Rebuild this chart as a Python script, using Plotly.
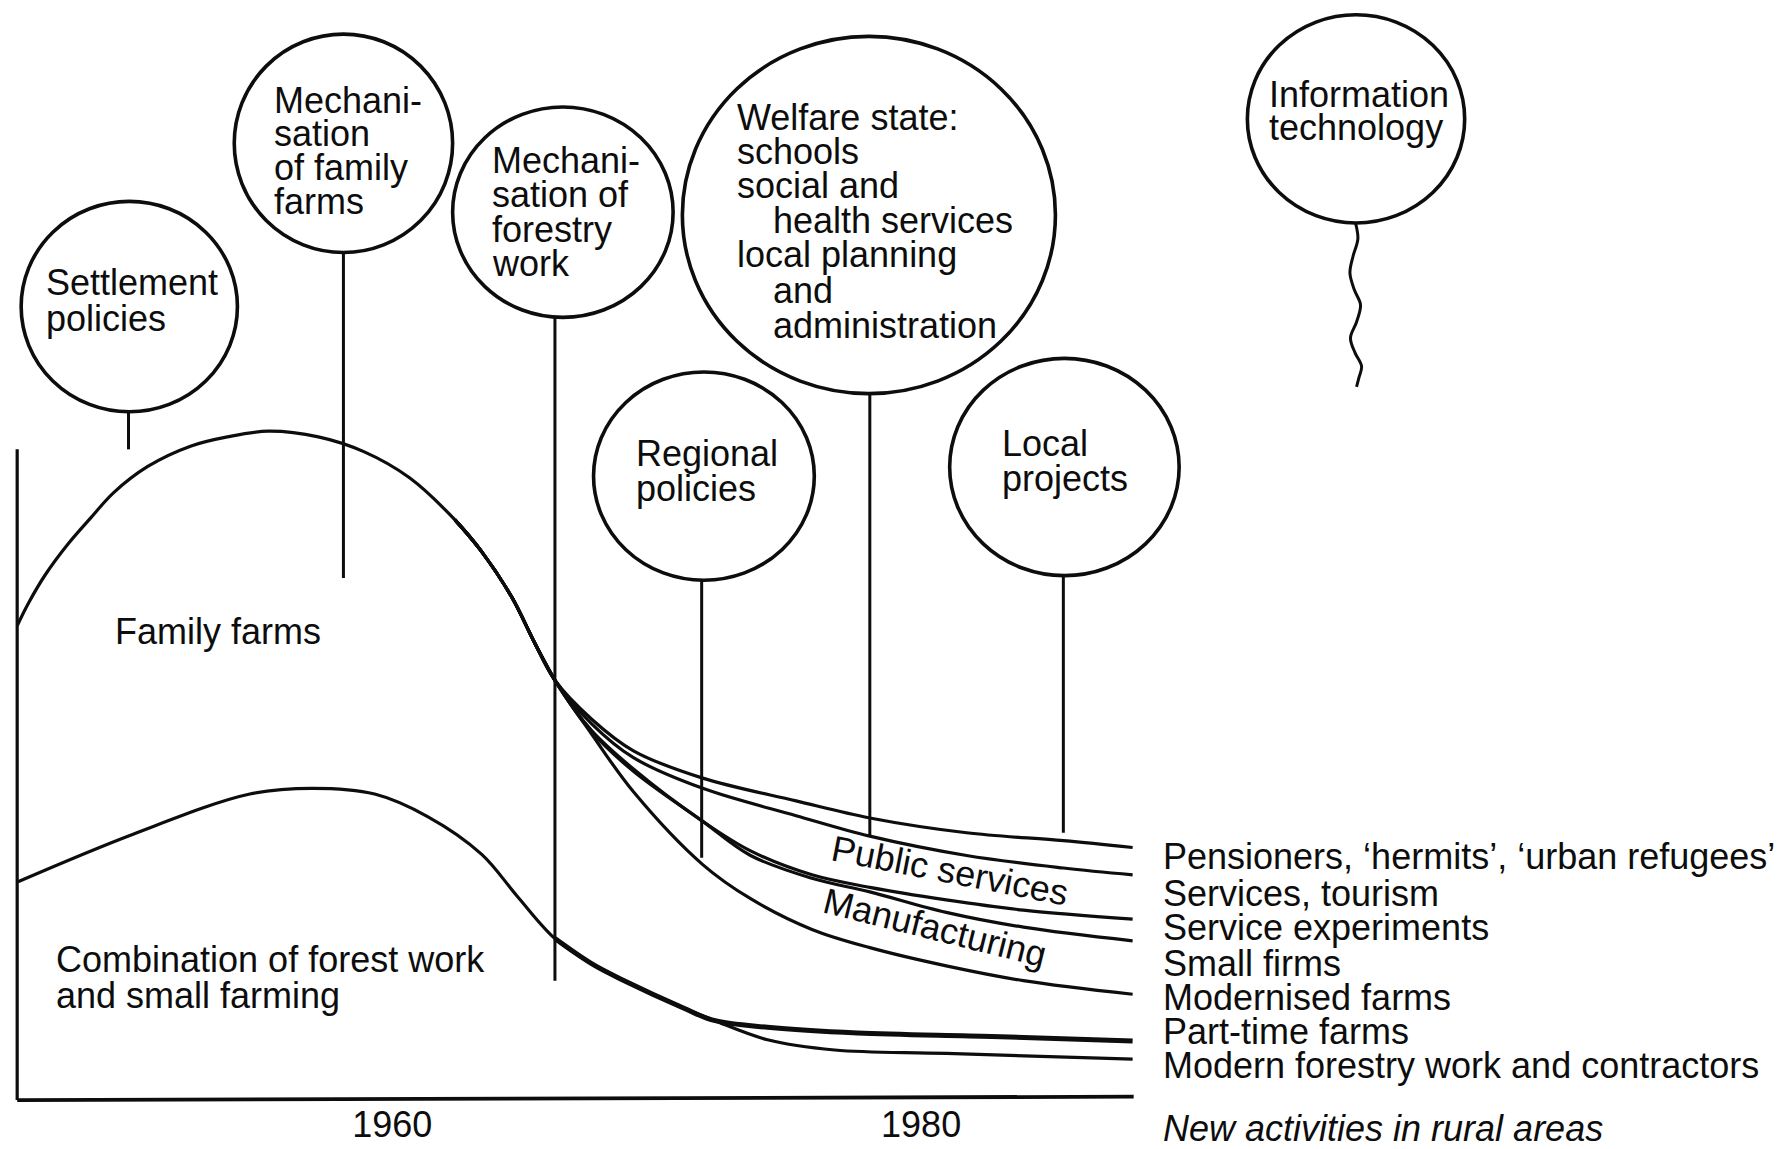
import plotly.graph_objects as go

# ---------------- data ----------------
# x in years, y in arbitrary "share of rural activity" units (baseline = 0)
family_years = [1945.81, 1946.24, 1946.88, 1947.74, 1948.60, 1949.46, 1950.75, 1952.39, 1953.76,
                1955.31, 1957.20, 1958.92, 1960.65, 1962.37, 1963.35, 1964.52, 1965.38, 1966.15]
family_farms = [417, 437, 462, 489, 512, 534, 557, 575, 583, 588, 583, 570, 547, 510, 483, 442, 402, 369]

comb_years = [1945.84, 1950.22, 1954.61, 1956.97, 1959.33, 1961.35, 1963.38, 1964.73, 1966.15,
              1967.60, 1968.77, 1971.01, 1972.17]
combination = [192, 234, 269, 274, 269, 249, 216, 179, 142, 119, 105, 81, 70]

bundle_years_a = [1967.53, 1969.12, 1971.74, 1975.27, 1978.06, 1981.72, 1985.38, 1988.0]
pensioners = [335, 307, 283, 263, 248, 235, 228, 222]
services_tourism = [331, 301, 274, 250, 232, 215, 204, 198]

bundle_years_b = [1967.53, 1969.12, 1971.74, 1973.55, 1975.87, 1978.06, 1980.95, 1983.87, 1988.0]
service_experiments = [325, 291, 245, 219, 198, 187, 176, 167, 159]
small_firms = [324, 289, 245, 215, 195, 183, 165, 152, 140]
modernised_farms = [322, 271, 207, 177, 150, 134, 118, 105, 93]

parttime_years = [1974.19, 1977.59, 1982.67, 1988.0]
part_time_farms = [64, 59, 56, 52]
forestry_years = [1974.19, 1976.73, 1980.95, 1988.0]
modern_forestry = [53, 44, 41, 36]

outcome_labels = ["Pensioners, \u2018hermits\u2019, \u2018urban refugees\u2019", "Services, tourism",
                  "Service experiments", "Small firms", "Modernised farms", "Part-time farms",
                  "Modern forestry work and contractors"]

tick_years = [1960, 1980]
tick_labels = ["1960", "1980"]

# balloons (driving forces): bounding box in data units, stem position
balloon_names = ["Settlement policies", "Mechanisation of family farms", "Mechanisation of forestry work",
                 "Welfare state", "Regional policies", "Local projects", "Information technology"]
balloon_x0 = [1945.96, 1954.02, 1962.28, 1970.97, 1967.61, 1981.08, 1992.34]
balloon_x1 = [1954.14, 1962.28, 1970.62, 1985.08, 1975.96, 1989.76, 2000.56]
balloon_y0 = [605, 745, 688, 621, 457, 461, 771]
balloon_y1 = [790, 937, 873, 935, 640, 652, 954]
stem_x = [1950.02, 1958.15, 1966.15, 1978.06, 1971.70, 1985.38]
stem_bottom = [572, 459, 105, 232, 213, 235]

# wavy string of the information technology balloon
it_string_x = [1996.43, 1996.52, 1996.34, 1996.22, 1996.39, 1996.62, 1996.47, 1996.24,
               1996.41, 1996.66, 1996.56, 1996.47]
it_string_y = [771, 757, 742, 727, 712, 699, 684, 670, 657, 645, 635, 627]

# ---------------- figure ----------------
INK = "#0d0d0d"
FONT = "Liberation Sans, Arial, Helvetica, sans-serif"
FS = 36

fig = go.Figure()

def curve(x, y, w=3.2):
    fig.add_trace(go.Scatter(x=x, y=y, mode="lines", line=dict(color=INK, width=w, shape="spline", smoothing=1.0),
                             hoverinfo="skip", showlegend=False))

def seg(x, y, w=3.0):
    fig.add_trace(go.Scatter(x=x, y=y, mode="lines", line=dict(color=INK, width=w),
                             hoverinfo="skip", showlegend=False))

# family farm curve continuing into the bundle
tail_f_x = family_years[-5:]
tail_f_y = family_farms[-5:]
curve(family_years, family_farms)
for yrs, vals in [(bundle_years_a, pensioners), (bundle_years_a, services_tourism),
                  (bundle_years_b, service_experiments), (bundle_years_b, small_firms),
                  (bundle_years_b, modernised_farms)]:
    curve(tail_f_x + yrs, tail_f_y + vals)

# combination curve continuing into part-time farms and forestry
curve(comb_years, combination)
curve(comb_years[-5:] + parttime_years, combination[-5:] + part_time_farms, w=5)
curve(comb_years[-5:] + forestry_years, combination[-5:] + modern_forestry)

# axes frame (left line + baseline)
seg([family_years[0], family_years[0]], [0, 572], w=3.2)
seg([family_years[0], 1988.04], [0, 3], w=3.8)

# balloons
for i in range(len(balloon_names)):
    fig.add_shape(type="circle", xref="x", yref="y", x0=balloon_x0[i], x1=balloon_x1[i],
                  y0=balloon_y0[i], y1=balloon_y1[i], line=dict(color=INK, width=3.6))
for i in range(len(stem_x)):
    seg([stem_x[i], stem_x[i]], [balloon_y0[i], stem_bottom[i]], w=3.0)
curve(it_string_x, it_string_y, w=3.0)

def txt(x, y, s, anchor="left", size=FS, italic=False, angle=0):
    fig.add_annotation(x=x, y=y, xref="x", yref="y", text=s, showarrow=False, xanchor=anchor,
                       yanchor="middle", textangle=angle, borderpad=0,
                       font=dict(family=FONT, size=size, color=INK, style="italic" if italic else "normal"))

# balloon texts
balloon_text = [
    (1946.88, [719, 687], ["Settlement", "policies"]),
    (1955.48, [879, 850, 820, 790], ["Mechani-", "sation", "of family", "farms"]),
    (1963.74, [826, 796, 765, 735], ["Mechani-", "sation of", "forestry", "work"]),
    (1969.16, [568, 538], ["Regional", "policies"]),
    (1983.01, [577, 546], ["Local", "projects"]),
    (1993.12, [884, 855], ["Information", "technology"]),
]
for x, ys, lines in balloon_text:
    for yy, s in zip(ys, lines):
        txt(x, yy, s)

welfare_lines = [(1972.99, 864, "Welfare state:"), (1972.99, 834, "schools"), (1972.99, 804, "social and"),
                 (1974.37, 773, "health services"), (1972.99, 743, "local planning"),
                 (1974.37, 712, "and"), (1974.37, 681, "administration")]
for x, yy, s in welfare_lines:
    txt(x, yy, s)

# curve labels
txt(1949.46, 412, "Family farms")
txt(1947.23, 124, "Combination of forest work")
txt(1947.23, 92, "and small farming")
txt(1981.08, 202, "Public services", anchor="center", angle=11)
txt(1980.52, 152, "Manufacturing", anchor="center", angle=14)

for yy, s in zip([214, 182, 152, 120, 90, 60, 30], outcome_labels):
    txt(1989.12, yy, s)
txt(1989.12, -25, "New activities in rural areas", italic=True)

fig.update_layout(
    width=1783, height=1149, margin=dict(l=0, r=0, t=0, b=0),
    paper_bgcolor="white", plot_bgcolor="white", showlegend=False,
    xaxis=dict(range=[1945.16, 2012.60], showgrid=False, zeroline=False, showline=False,
               tickvals=tick_years, ticktext=tick_labels, ticks="",
               tickfont=dict(family=FONT, size=FS, color=INK),
               anchor="free", position=43 / 1010, automargin=False, fixedrange=True),
    yaxis=dict(range=[-43, 967], visible=False, fixedrange=True),
)

fig.write_html("out.html", config={"displayModeBar": False, "staticPlot": True},
               post_script="document.body.style.margin='0px';")
